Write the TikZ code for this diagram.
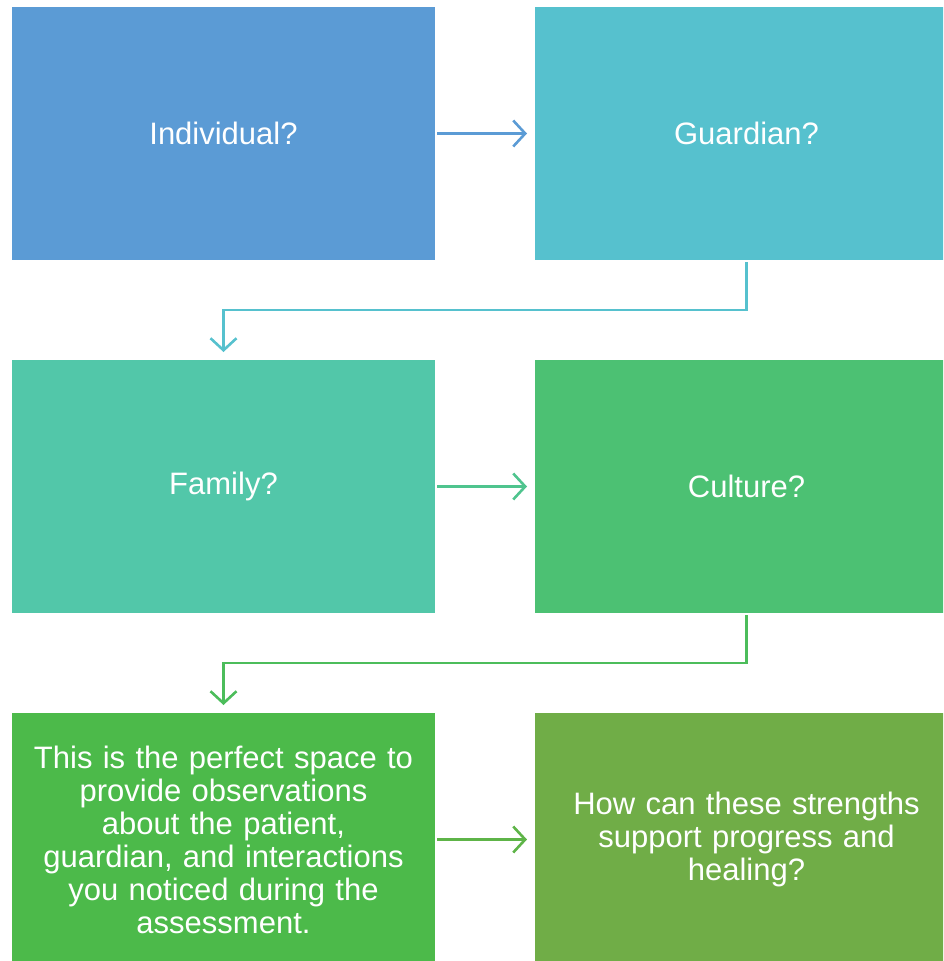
\documentclass[tikz,border=0pt]{standalone}
\usepackage{fontspec}
\setmainfont{Liberation Sans}
\usetikzlibrary{positioning,arrows.meta}

\definecolor{indblue}{HTML}{5B9BD5}
\definecolor{guateal}{HTML}{56C1CE}
\definecolor{famgreen}{HTML}{52C7A9}
\definecolor{culgreen}{HTML}{4CC173}
\definecolor{obsgreen}{HTML}{4CBA4A}
\definecolor{howgreen}{HTML}{70AD47}

\begin{document}
\begin{tikzpicture}[x=1pt,y=1pt,->,>={Straight Barb[length=12pt,width=26pt]},
                    line width=2.6pt,node distance=100pt and 100pt,
                    box/.style={rectangle,minimum width=423pt,minimum height=253pt,
                      inner sep=0pt,outer sep=0pt,text=white,align=center,text width=400pt,
                      font=\fontsize{31}{33}\selectfont}]

  \clip (0,0) rectangle (943,-961);

  \node[box,fill=indblue]  (I) at (223.5,-133.5) {Individual?};
  \node[box,fill=guateal]  (G) [right=of I]      {Guardian?};
  \node[box,fill=famgreen] (F) [below=of I]      {Family?};
  \node[box,fill=culgreen] (C) [right=of F]      {Culture?};
  \node[box,fill=obsgreen] (O) [below=of F]
    {This is the perfect space to\\provide observations\\about the patient,\\guardian, and interactions\\you noticed during the\\assessment.};
  \node[box,fill=howgreen] (H) [right=of O]
    {How can these strengths\\support progress and\\healing?};

  \draw[indblue,shorten <=2pt,shorten >=8pt] (I) -- (G);
  \draw[guateal,shorten <=2pt,shorten >=8pt] (G.south) -- ++(0,-50) -| (F.north);
  \draw[famgreen!50!culgreen,shorten <=2pt,shorten >=8pt] (F) -- (C);
  \draw[culgreen!40!obsgreen,shorten <=2pt,shorten >=8pt] (C.south) -- ++(0,-50) -| (O.north);
  \draw[obsgreen!50!howgreen,shorten <=2pt,shorten >=8pt] (O) -- (H);
\end{tikzpicture}
\end{document}
